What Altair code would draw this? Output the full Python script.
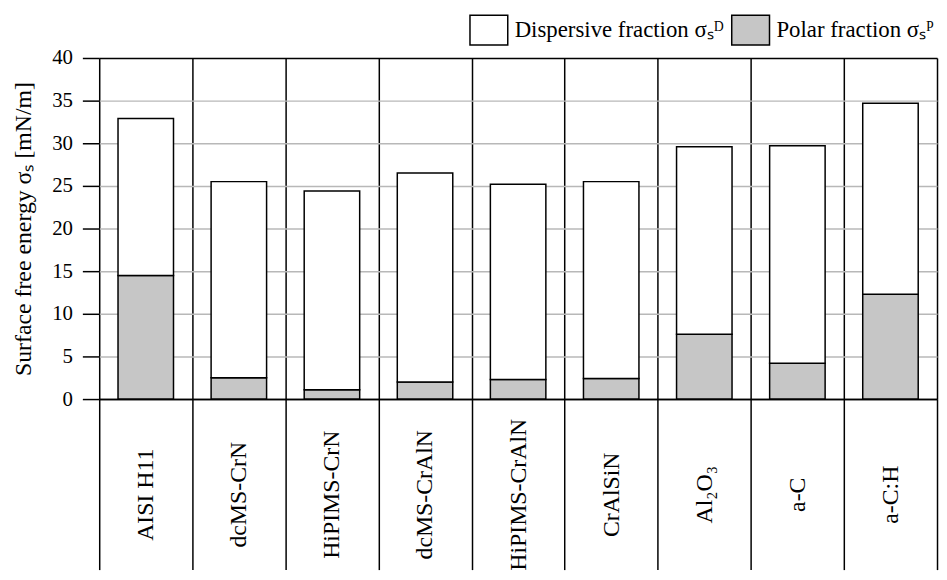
import altair as alt
import pandas as pd

materials = ["AISI H11", "dcMS-CrN", "HiPIMS-CrN", "dcMS-CrAlN", "HiPIMS-CrAlN",
             "CrAlSiN", "Al₂O₃", "a-C", "a-C:H"]
total = [32.9, 25.5, 24.4, 26.5, 25.2, 25.5, 29.6, 29.7, 34.7]
polar = [14.5, 2.5, 1.1, 2.0, 2.3, 2.4, 7.6, 4.2, 12.3]

disp_label = "Dispersive fraction σₛᴰ"
polar_label = "Polar fraction σₛᴾ"

rows = []
for m, t, p in zip(materials, total, polar):
    rows.append({"material": m, "fraction": polar_label, "value": p, "ord": 0})
    rows.append({"material": m, "fraction": disp_label, "value": round(t - p, 2), "ord": 1})
df = pd.DataFrame(rows)

FONT = "Liberation Serif"

chart = alt.Chart(df).mark_bar(
    stroke="black", strokeWidth=1.5, width={"band": 0.596}
).encode(
    x=alt.X("material:N", sort=materials,
            scale=alt.Scale(paddingInner=0, paddingOuter=0),
            axis=alt.Axis(title=None, orient="bottom", tickBand="extent",
                          grid=True, gridColor="black", gridWidth=1.5,
                          ticks=True, tickSize=172, tickColor="black", tickWidth=1.5,
                          domain=True, domainColor="black", domainWidth=1.5,
                          labelAngle=270, labelAlign="center", labelBaseline="middle",
                          labelPadding=-76, labelFont=FONT, labelFontSize=24,
                          labelColor="black")),
    y=alt.Y("value:Q", stack="zero",
            scale=alt.Scale(domain=[0, 40], nice=False),
            axis=alt.Axis(title="Surface free energy σₛ [mN/m]",
                          values=[0, 5, 10, 15, 20, 25, 30, 35, 40],
                          grid=True, gridWidth=1.5,
                          gridColor={"condition": {"test": "datum.value === 40 || datum.value === 0",
                                                   "value": "black"},
                                     "value": "#b8b8b8"},
                          tickSize=17, tickColor="black", tickWidth=1.5,
                          domain=False, labelPadding=10,
                          labelFont=FONT, labelFontSize=21, labelColor="black",
                          titleFont=FONT, titleFontSize=24, titleFontWeight="normal",
                          titleColor="black", titlePadding=16)),
    color=alt.Color("fraction:N",
                    scale=alt.Scale(domain=[disp_label, polar_label],
                                    range=["white", "#c6c6c6"]),
                    legend=alt.Legend(title=None, orient="none", direction="horizontal",
                                      legendX=377, legendY=-44,
                                      symbolType="M-1.27,-1L1.27,-1L1.27,1L-1.27,1Z",
                                      symbolSize=900, symbolStrokeColor="black",
                                      symbolStrokeWidth=1.5, labelOffset=10,
                                      columnPadding=4, padding=0,
                                      labelFont=FONT, labelFontSize=23,
                                      labelColor="black", labelLimit=400)),
    order=alt.Order("ord:Q"),
).properties(
    width=845, height=344,
    autosize=alt.AutoSizeParams(type="none"),
    padding={"left": 92, "top": 48, "right": 2, "bottom": 172},
).configure_view(stroke=None).configure(background="white")

chart.save("out.html", embed_options={"renderer": "svg", "actions": False})
